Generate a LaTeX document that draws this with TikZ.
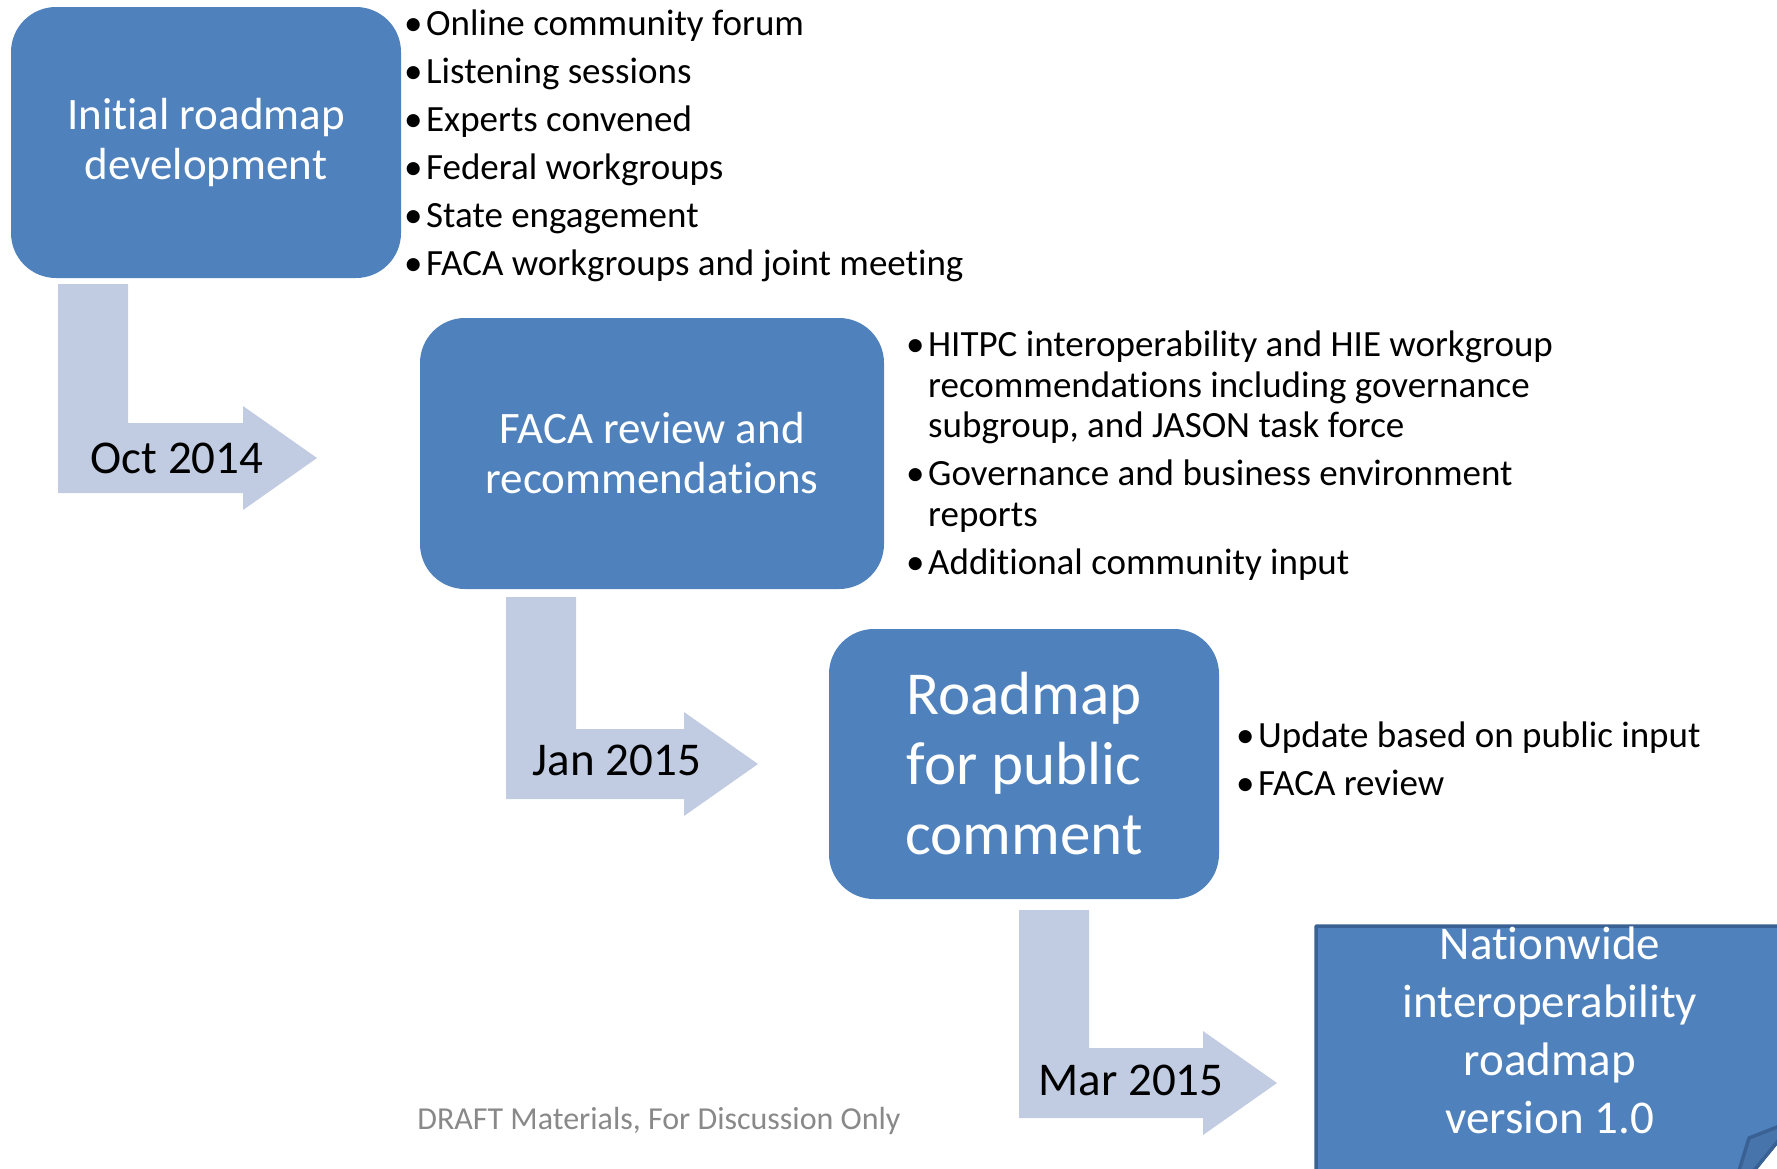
\documentclass[tikz,border=0pt]{standalone}
\usepackage{fontspec}
\setmainfont{Carlito}[Ligatures=NoCommon]
\usetikzlibrary{
  calc,
  positioning
}
\definecolor{boxblue}{HTML}{4F81BD}
\definecolor{boxedge}{HTML}{3A6194}
\definecolor{flapblue}{HTML}{4874AC}
\definecolor{arrowblue}{HTML}{C1CCE2}
\definecolor{draftgray}{HTML}{898989}
\newcommand{\bul}{\makebox[22pt][l]{\textbullet}}

\begin{document}
\begin{tikzpicture}[
      x=1pt, y=-1pt,
      stage/.style={
         rectangle,
         rounded corners=45pt,
         fill=boxblue,
         text=white,
         align=center,
         inner sep=0pt
      },
      date/.style={
         anchor=base,
         inner sep=0pt,
         font=\fontsize{47}{56}\selectfont
      },
      bullets/.style={
         anchor=base west,
         align=left,
         inner sep=0pt,
         font=\fontsize{37}{40.5}\selectfont
      },
      bent/.style={
         to path={let \p1=(\tikztostart), \p2=(\tikztotarget) in
            -- (\x1+70pt,\y1) -- (\x1+70pt,\y2+35pt) -- (\x2-74pt,\y2+35pt)
            -- (\x2-74pt,\y2+52pt) -- (\x2,\y2) -- (\x2-74pt,\y2-52pt)
            -- (\x2-74pt,\y2-35pt) -- (\x1,\y2-35pt) -- cycle}
      },
      note/.style={fill=boxblue, draw=boxedge, line width=3.5pt, line join=round},
      flap/.style={fill=flapblue, draw=boxedge, line width=3.5pt, line join=round}
    ]
    \clip (0,0) rectangle (1777,1168);

    \coordinate (a1) at (58,284);   \coordinate (t1) at (317,458);
    \coordinate (a2) at (506,597);  \coordinate (t2) at (758,764);
    \coordinate (a3) at (1019,910); \coordinate (t3) at (1277,1083);
    \fill[arrowblue] (a1) to[bent] (t1);
    \fill[arrowblue] (a2) to[bent] (t2);
    \fill[arrowblue] (a3) to[bent] (t3);

    \node (n1) [stage, minimum width=390pt, minimum height=271pt,
       font=\fontsize{45}{50}\selectfont] at (206,142.5)
       {Initial roadmap\\development};
    \node (n2) [stage, minimum width=464pt, minimum height=271pt,
       font=\fontsize{45}{50}\selectfont] at (652,453.5)
       {FACA review and\\recommendations};
    \node (n3) [stage, minimum width=390pt, minimum height=270pt,
       font=\fontsize{61}{70}\selectfont] at (1024,764)
       {Roadmap\\for public\\comment};

    \coordinate (c1) at (1795,1120);
    \coordinate (c2) at (1730,1200);
    \coordinate (c3) at (1749,1138);
    \draw[note] (1316,926) -- (1795,926) -- (c1) -- (c2) -- (1316,1200) -- cycle;
    \draw[flap] (c1) -- (c3) -- (c2) -- cycle;
    \node (n4) [text=white, align=center, inner sep=0pt,
       font=\fontsize{47}{58}\selectfont] at (1550,1030)
       {Nationwide\\interoperability\\roadmap\\version 1.0};

    \node (d1) [date] at (177,473) {Oct 2014};
    \node (d2) [date] at (617,775) {Jan 2015};
    \node (d3) [date] at (1131,1095) {Mar 2015};

    \node (l1) [bullets] at (404,275) {
       \bul Online community forum\\[7.5pt]
       \bul Listening sessions\\[7.5pt]
       \bul Experts convened\\[7.5pt]
       \bul Federal workgroups\\[7.5pt]
       \bul State engagement\\[7.5pt]
       \bul FACA workgroups and joint meeting};
    \node (l2) [bullets] at (906,574) {
       \bul HITPC interoperability and HIE workgroup\\
       \hspace*{22pt}recommendations including governance\\
       \hspace*{22pt}subgroup, and JASON task force\\[7.5pt]
       \bul Governance and business environment\\
       \hspace*{22pt}reports\\[7.5pt]
       \bul Additional community input};
    \node (l3) [bullets] at (1236,795) {
       \bul Update based on public input\\[7.5pt]
       \bul FACA review};

    \node (f) [anchor=base, inner sep=0pt, text=draftgray,
       font=\fontsize{32}{38}\selectfont] at (659,1129)
       {DRAFT Materials, For Discussion Only};
\end{tikzpicture}
\end{document}
